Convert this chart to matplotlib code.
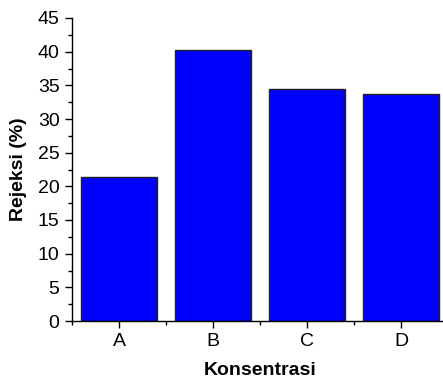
import matplotlib
matplotlib.use("Agg")
import matplotlib.pyplot as plt
from matplotlib.ticker import MultipleLocator

plt.rcParams["font.family"] = ["Liberation Sans", "DejaVu Sans"]

# Rejeksi per konsentrasi
categories = ["A", "B", "C", "D"]
rejeksi = [21.4, 40.3, 34.5, 33.7]

fig = plt.figure(figsize=(4.43, 3.78), dpi=100)
ax = fig.add_axes([72 / 443, 57 / 378, 376 / 443, 303 / 378])

x = range(1, len(categories) + 1)
ax.bar(x, rejeksi, width=0.8, color="#0000FF", edgecolor="#222222", linewidth=1.0)

ax.set_xlim(0.5, 4.5)
ax.set_ylim(0, 45)
ax.set_xticks(list(x))
ax.set_xticklabels(categories)
ax.set_xticks([0.5, 1.5, 2.5, 3.5, 4.5], minor=True)
ax.yaxis.set_major_locator(MultipleLocator(5))
ax.yaxis.set_minor_locator(MultipleLocator(2.5))

for side in ("top", "right"):
    ax.spines[side].set_visible(False)
for side in ("left", "bottom"):
    ax.spines[side].set_linewidth(1.0)

ax.tick_params(which="major", direction="out", length=5, width=1,
               labelsize=14, pad=4)
ax.tick_params(which="minor", direction="out", length=3, width=1)

ax.set_xlabel("Konsentrasi", fontsize=14, fontweight="bold", labelpad=8)
ax.set_ylabel("Rejeksi (%)", fontsize=14, fontweight="bold", labelpad=8)

fig.savefig("out.png", dpi=100)
